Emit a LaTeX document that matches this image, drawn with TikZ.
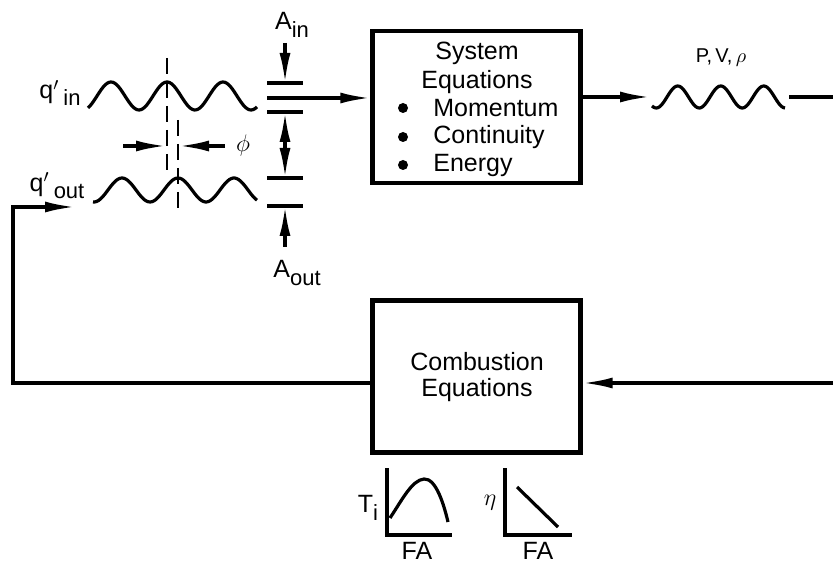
\documentclass[tikz,border=0pt]{standalone}
\usepackage{fontspec}
\setmainfont{Liberation Sans}
\usetikzlibrary{arrows.meta}
\newcommand{\lowsub}[1]{\raisebox{-0.55ex}{\fontsize{11}{12}\selectfont #1}}

\begin{document}
\begin{tikzpicture}[x=0.5pt,y=-0.5pt,
  box/.style={draw,line width=2.2pt,minimum width=104pt,minimum height=76pt},
  txt/.style={inner sep=0pt,font=\fontsize{12.5}{15}\selectfont},
  dotmark/.style={circle,fill,inner sep=0pt,minimum size=5pt},
  arr/.style={-{Latex[length=15pt,width=5.5pt]},line width=1.6pt},
  wire/.style={line width=1.6pt},
  wave/.style={line width=1.6pt,samples=90,smooth},
  cut/.style={line width=1.3pt,dash pattern=on 8pt off 4pt},
  axis/.style={line width=2.2pt}
]
\useasboundingbox (0,0) rectangle (833,565);
% blocks
\node[box] (sys)  at (476.5,107)   {};
\node[box] (comb) at (476.5,376.5) {};
\node[txt] (systitle) at (477,53) {System};
\node[txt] (syseq)    at (477,82) {Equations};
\foreach \y/\name/\word in {108/mom/Momentum,137/cont/Continuity,165/ener/Energy}{
  \node[dotmark] (dot\name) at (403,\y) {};
  \node[txt,anchor=west] (\name) at (433,\y) {\word};
}
\node[txt] (combtitle) at (477,362) {Combustion};
\node[txt] (combeq)    at (477,390) {Equations};

% perturbation waves
\draw[wave] plot[domain=88:257] (\x,{96-14*sin(6.4286*(\x-97))});
\draw[wave] plot[domain=93:257] (\x,{190-12*sin(6.4286*(\x-108))});
\draw[wave] plot[domain=652:785] (\x,{97-11*sin(8.372*(\x-667))});
\draw[cut] (167,58) -- (167,175);
\draw[cut] (178,120) -- (178,212);
\node[txt] (qin)  at (60,93)  {q$'$\,\lowsub{in}};
\node[txt] (qout) at (57,186) {q$'$\,\lowsub{out}};
\node[txt] (pvr)  at (721,58) {\fontsize{10}{12}\selectfont P,\,V,\,$\rho$};

% phase shift
\coordinate (phl) at (123,146); \coordinate (phlt) at (166,146);
\coordinate (phr) at (225,146); \coordinate (phrt) at (179,146);
\draw[arr] (phl) -- (phlt);
\draw[arr] (phr) -- (phrt);
\node[txt] (phi) at (243,146) {$\phi$};

% areas
\foreach \y in {83,112,178,206} \draw[wire] (267,\y) -- (303,\y);
\node[txt] (ain)  at (292,25)  {A\lowsub{in}};
\node[txt] (aout) at (297,273) {A\lowsub{out}};
\coordinate (ains) at (285,43);  \coordinate (aint) at (285,83);
\coordinate (amid) at (285,145);
\coordinate (amu) at (285,112);  \coordinate (amd) at (285,178);
\coordinate (aos) at (285,247);  \coordinate (aot) at (285,206);
\draw[arr] (ains) -- (aint);
\draw[arr] (amid) -- (amu);
\draw[arr] (amid) -- (amd);
\draw[arr] (aos) -- (aot);

% connectors
\coordinate (inl) at (267,98);
\draw[arr] (inl) -- (sys.west |- inl);
\coordinate (pvs) at (650,97);
\draw[arr] (sys.east |- pvs) -- (pvs);
\coordinate (pve) at (789,97); \coordinate (rtop) at (833,97);
\draw[wire] (pve) -- (rtop);
\coordinate (rbot) at (833,383);
\draw[arr] (rbot) -- (comb.east |- rbot);
\coordinate (lbot) at (13,383); \coordinate (qot) at (75,207);
\draw[arr] (comb.west |- lbot) -- (lbot) |- (qot);

% characteristics
\draw[axis] (387,468) -- (387,535) -- (452,535);
\draw[wire] (390,518) .. controls (402,500) and (412,480) .. (424,479)
  .. controls (436,478) and (444,505) .. (448,522);
\node[txt] (ti) at (368,508) {T\lowsub{i}};
\node[txt] (fa1) at (417,551) {FA};
\draw[axis] (505,468) -- (505,535) -- (572,535);
\draw[wire] (517,487) -- (558,527);
\node[txt] (eta) at (490,503) {$\eta$};
\node[txt] (fa2) at (538,551) {FA};
\end{tikzpicture}
\end{document}
